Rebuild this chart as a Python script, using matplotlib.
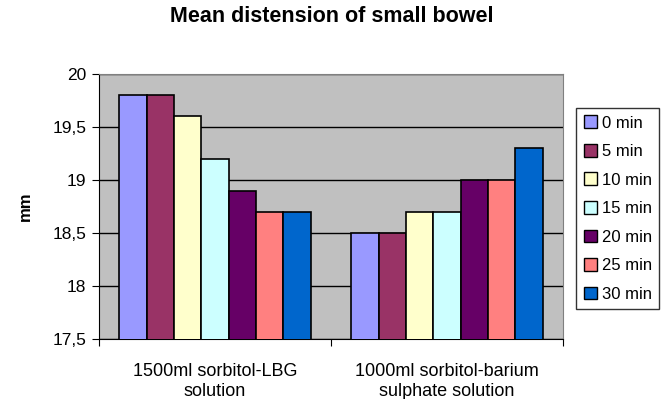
import numpy as np
import matplotlib
matplotlib.use("Agg")
import matplotlib.pyplot as plt
from matplotlib.patches import Patch

plt.rcParams['font.family'] = ['Liberation Sans', 'DejaVu Sans']

# data
categories = ["1500ml sorbitol-LBG\nsolution", "1000ml sorbitol-barium\nsulphate solution"]
series_names = ["0 min", "5 min", "10 min", "15 min", "20 min", "25 min", "30 min"]
values = [
    [19.8, 18.5],   # 0 min
    [19.8, 18.5],   # 5 min
    [19.6, 18.7],   # 10 min
    [19.2, 18.7],   # 15 min
    [18.9, 19.0],   # 20 min
    [18.7, 19.0],   # 25 min
    [18.7, 19.3],   # 30 min
]
colors = ["#9999FF", "#993366", "#FFFFCC", "#CCFFFF", "#660066", "#FF8080", "#0066CC"]
yticks = [17.5, 18, 18.5, 19, 19.5, 20]
ytick_labels = ["17,5", "18", "18,5", "19", "19,5", "20"]

fig = plt.figure(figsize=(6.68, 3.99), dpi=100)
ax = fig.add_axes([99 / 668, 1 - 339 / 399, 464 / 668, 265 / 399])
ax.set_facecolor("#C0C0C0")

x = np.arange(len(categories))
w = 0.118
for i, (name, vals) in enumerate(zip(series_names, values)):
    ax.bar(x + (i - 3) * w, vals, width=w, color=colors[i], edgecolor="black",
           linewidth=1.2, label=name, zorder=3)

ax.set_xlim(-0.5, 1.5)
ax.set_ylim(17.5, 20)
ax.set_yticks(yticks)
ax.set_yticklabels(ytick_labels, fontsize=12.5)
ax.yaxis.grid(True, color="black", linewidth=1, zorder=1)
ax.set_axisbelow(True)

ax.set_xticks([-0.5, 0.5, 1.5])
ax.set_xticklabels([])
ax.set_xticks(x, minor=True)
ax.set_xticklabels(categories, minor=True, fontsize=13, linespacing=1.25)
ax.tick_params(axis="x", which="minor", length=0, pad=17)
ax.tick_params(axis="x", which="major", length=5, direction="out")
ax.tick_params(axis="y", length=5, direction="out", pad=4)

for s in ["top", "right"]:
    ax.spines[s].set_color("#808080")
for s in ["left", "bottom"]:
    ax.spines[s].set_color("black")

ax.set_ylabel("mm", fontsize=12, fontweight="bold", labelpad=14)
fig.text(332 / 668, 1 - 16 / 399, "Mean distension of small bowel", ha="center",
         va="center", fontsize=15.5, fontweight="bold")

handles = [Patch(facecolor=c, edgecolor="black", label=n) for c, n in zip(colors, series_names)]
leg = fig.legend(handles=handles, loc="upper left", bbox_to_anchor=(576 / 668, 1 - 108 / 399),
                 fontsize=12, frameon=True, fancybox=False, handlelength=0.8, handleheight=0.8,
                 handletextpad=0.3, labelspacing=0.8, borderpad=0.45, borderaxespad=0)
leg.get_frame().set_edgecolor("black")
leg.get_frame().set_linewidth(1)

fig.savefig("out.png", dpi=100)
